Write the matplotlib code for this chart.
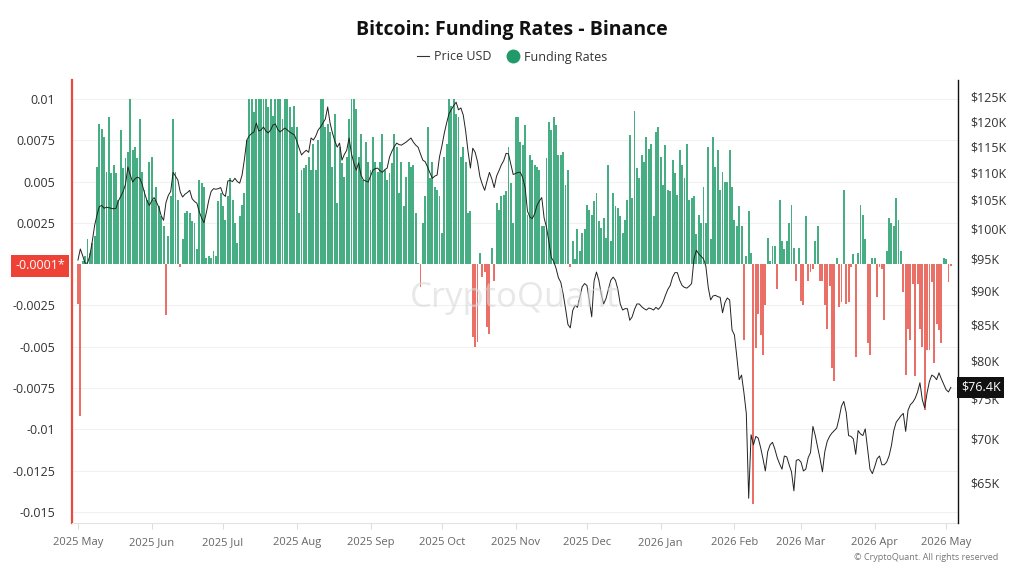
import matplotlib
matplotlib.use("Agg")
import matplotlib.pyplot as plt
import matplotlib.dates as mdates
from matplotlib.ticker import FixedLocator, NullLocator, FuncFormatter
from matplotlib.lines import Line2D
import numpy as np
import pandas as pd

plt.rcParams['font.family'] = ['Open Sans', 'DejaVu Sans']

start_date = "2025-05-01"

# Daily funding rate, in basis points (1 bp = 0.0001)
funding_rate_bps = [
    -24, -92, 2, 5, 15, 7, 13, 17, 59, 85,
    82, 77, 56, 89, 55, 60, 55, 39, 81, 58,
    64, 68, 100, 69, 71, 64, 88, 56, 45, 39,
    62, 65, 39, 47, 35, 29, 23, -31, 17, 41,
    88, 56, 39, -2, 15, 31, 32, 31, 26, 25,
    9, 51, 49, 47, 4, 5, 4, 8, 5, 38,
    43, 35, 27, 41, 52, 39, 25, 13, 29, 36,
    43, 75,
    100, 100, 92, 100, 100, 100, 100, 100, 95, 100,
    90, 100, 100, 100, 88, 100, 100, 95, 83, 96,
    83, 31, 57, 58, 60, 65, 57, 73, 57, 75,
    100, 100, 83, 85, 80, 59, 91, 37, 71, 61,
    53, 65, 88, 100, 100, 94, 65, 79, 51, 74,
    62, 57, 77, 62, 56, 62, 79, 57, 51, 55,
    61, 79, 71, 43, 62, 35, 53, 62, 59, 60,
    31, 1, -14, 25, 41, 83, 52, 62, 47, 45,
    41, 19, 65, 73, 100, 96, 100, 91, 89, 65,
    71, 62, 31, 32,
    -44, -50, -47, 7, -8, -5, -38, -42, 10, -10, 37, 33, 41, 42, 44, 71,
    49, 25, 89, 89, 74, 72, 84, 30, 66, 63,
    60, 59, 57, 23, 23, 64, 86, 81, 89, 84,
    66, 66, 68, 48, 57, -2, 14, 3, 21, 8,
    19, 21, 36, 33, 30, 38, 43, 26, 22, 28,
    16, 60, 14, 43, 35, 34, 29, 19, 27, 39,
    78, 40, 93, 58, 52, 66, 62, 77, 70, 73,
    29, 80, 83, 65, 48, 72, 45, 44, 63, 55,
    42, 69, 60, 52, 73, 39, 40, 41, 18, 30,
    25, 47, 25, 71, 15, 77, 59, 69, 45, 56,
    50, 50, 69,
    47, 27, 23, 35, 23, -46, 5, 32, 7, -145,
    -51, -30, -43, -55, -25, 16, 2, 11, 11, -15,
    39, 14, 9, 14, 25, 36, 10, -10, 10, -22,
    -25, 29, -10, -5, -3, 14, 23, -10, -10, -25,
    -39, -13, -63, -71, 4, -26, -23, 45, -24, -23,
    -2, 6, -56, 7, 36, 30, 15, -48, -55, 4,
    4, -20, -2, -3, -34, 8, 28, 25, 23, 40,
    27, 8, -17, -67, -39, -46, -12, -68, -12, -39,
    -50, -88, -52, -52, -11, -60, -36, -40, -48, 4,
    3, -11, -1,
]

# Daily BTC price, in thousands of USD
price_usd_k = [
    94.8, 96.6, 95.5, 94.3, 94.3, 95.5, 97.8, 100.5, 102.3, 103.8,
    104.0, 103.5, 103.7, 103.6, 103.5, 103.4, 103.5, 104.8, 105.6, 106.5,
    107.8, 111.0, 109.5, 108.2, 108.8, 109.1, 108.9, 107.8, 106.2, 104.9,
    104.0, 104.8, 105.4, 104.6, 103.7, 102.2, 101.4, 104.5, 105.8, 106.5,
    110.0, 109.3, 108.6, 106.4, 105.5, 106.0, 106.3, 106.7, 105.2, 104.7,
    104.4, 102.9, 101.8, 101.0, 102.8, 104.9, 106.5, 107.0, 106.9, 107.0,
    107.2, 106.0, 105.6, 108.4, 108.5, 108.3, 108.9, 108.3, 108.0, 109.5,
    112.5, 116.2, 117.0, 117.5, 117.8, 119.6, 118.0, 118.2, 118.8, 118.0,
    117.6, 118.2, 119.2, 119.4, 118.3, 117.8, 118.2, 118.6, 118.2, 117.8,
    117.5, 117.2, 116.0, 114.6, 113.3, 113.8, 114.2, 113.8, 116.6, 116.2,
    117.0, 118.2, 118.8, 119.6, 120.4, 122.9, 119.6, 117.6, 116.0, 114.8,
    115.6, 112.3, 113.4, 114.2, 116.6, 113.5, 111.8, 110.4, 111.8, 109.5,
    108.6, 108.4, 108.2, 109.3, 110.4, 110.7, 110.8, 110.3, 110.0, 110.5,
    110.8, 112.9, 114.0, 114.9, 115.6, 115.3, 115.2, 115.5, 115.8, 116.2,
    116.6, 115.8, 115.2, 114.8, 113.5, 112.3, 112.0, 111.0, 109.9, 108.9,
    109.3, 109.5, 112.9, 115.0, 117.5, 119.6, 121.5, 122.4, 123.2, 123.9,
    122.3, 122.7, 121.2, 118.0, 114.0, 110.8, 114.6, 113.8, 112.0, 109.2,
    107.8, 106.7, 108.4, 110.0, 108.8, 107.2, 109.3, 110.3, 111.4, 112.2,
    113.6, 113.5, 111.5, 109.6, 109.8, 110.0, 110.0, 109.0, 107.2, 103.0,
    102.0, 101.7, 102.5, 104.0, 104.8, 105.4, 101.8, 100.2, 97.8, 95.2,
    94.6, 93.5, 92.0, 91.3, 89.5, 87.3, 85.0, 84.5, 87.0, 87.8,
    87.5, 89.0, 90.6, 91.1, 90.8, 88.5, 86.1, 91.5, 92.9, 91.6,
    89.5, 88.0, 88.8, 90.2, 91.6, 92.1, 91.6, 90.2, 88.0, 87.1,
    87.3, 87.3, 85.6, 86.1, 87.2, 88.0, 88.0, 87.6, 87.3, 87.1,
    87.4, 87.3, 87.1, 87.5, 87.2, 87.6, 88.3, 89.3, 90.2, 90.8,
    92.1, 92.8, 92.8, 91.6, 90.8, 90.5, 90.4, 90.7, 91.1, 95.0,
    96.4, 95.8, 95.4, 95.0, 93.8, 90.5, 88.6, 89.2, 89.3, 89.1,
    89.0, 86.7, 88.2, 88.9, 88.6, 84.2, 83.5, 80.5, 77.4, 78.0,
    75.7, 73.1, 63.3, 70.5, 69.3, 70.3, 70.1, 69.0, 67.7, 66.3,
    68.5, 69.3, 69.6, 68.8, 67.8, 67.1, 66.5, 68.0, 67.9, 67.0,
    66.2, 64.1, 67.5, 67.6, 67.3, 66.3, 66.5, 67.8, 68.4, 71.5,
    70.4, 69.0, 67.7, 66.2, 68.5, 69.7, 70.3, 70.7, 71.0, 71.3,
    72.5, 74.0, 74.6, 73.2, 70.4, 70.3, 70.0, 68.2, 71.0, 70.6,
    70.4, 71.2, 68.8, 66.5, 66.0, 66.8, 67.7, 68.0, 67.0, 67.0,
    67.3, 68.0, 69.2, 71.0, 72.0, 72.4, 72.8, 73.1, 70.9, 73.5,
    74.2, 74.5, 75.0, 75.8, 77.0, 74.8, 73.8, 75.7, 77.2, 78.0,
    77.8, 77.4, 78.3, 77.5, 76.8, 76.1, 75.8, 76.4,
]

left_ticks = [0.01, 0.0075, 0.005, 0.0025, -0.0025, -0.005, -0.0075, -0.01, -0.0125, -0.015]
left_tick_labels = ["0.01", "0.0075", "0.005", "0.0025", "-0.0025", "-0.005", "-0.0075", "-0.01", "-0.0125", "-0.015"]
right_ticks_k = [65, 70, 75, 80, 85, 90, 95, 100, 105, 110, 115, 120, 125]
latest_funding_label = "-0.0001*"
latest_price_label = "$76.4K"

funding = np.array(funding_rate_bps) / 10000.0
price = np.array(price_usd_k) * 1000.0
f_dates = pd.date_range(start_date, periods=len(funding), freq="D")
p_dates = pd.date_range(start_date, periods=len(price), freq="D")

GREEN = "#47ae84"
RED = "#ea6f66"

fig = plt.figure(figsize=(10.24, 5.76), dpi=100)
ax = fig.add_axes([72/1024, 1-523/576, (958-72)/1024, (523-80)/576])
ax2 = ax.twinx()

colors = [GREEN if v >= 0 else RED for v in funding]
ax.bar(f_dates, funding, width=0.8, color=colors, linewidth=0, zorder=2)

ax.set_xlim(pd.Timestamp("2025-04-28 12:00"), pd.Timestamp("2026-05-06"))
ax.set_ylim(-0.01567, 0.01115)
ax.yaxis.set_major_locator(FixedLocator(left_ticks))
ax.set_yticklabels(left_tick_labels)
ax.tick_params(axis='y', length=0, pad=12, labelsize=9, labelcolor="#333333")
ax.grid(axis='y', color="#f1f1f1", linewidth=0.8, zorder=0)
ax.set_axisbelow(True)

ax.xaxis.set_major_locator(mdates.MonthLocator())
ax.xaxis.set_major_formatter(mdates.DateFormatter("%Y %b"))
ax.tick_params(axis='x', length=4, color="#dddddd", labelsize=8, labelcolor="#666666", pad=6)

for s in ["top", "right"]:
    ax.spines[s].set_visible(False)
ax.spines["bottom"].set_color("#e3e3e3")
ax.spines["left"].set_color("#ea4b3f")
ax.spines["left"].set_linewidth(1.6)

ax2.plot(p_dates, price, color="#222222", linewidth=0.7, zorder=3)
ax2.set_yscale("log")
ax2.set_ylim(60700, 128650)
ax2.yaxis.set_major_locator(FixedLocator([v * 1000 for v in right_ticks_k]))
ax2.yaxis.set_minor_locator(NullLocator())
ax2.yaxis.set_major_formatter(FuncFormatter(lambda v, p: f"${v/1000:.0f}K"))
ax2.tick_params(axis='y', length=0, pad=9, labelsize=9, labelcolor="#333333")
for s in ["top", "left", "bottom"]:
    ax2.spines[s].set_visible(False)
ax2.spines["right"].set_color("#111111")
ax2.spines["right"].set_linewidth(1.0)

# latest value labels
ax.annotate(latest_funding_label, xy=(0, -0.0001), xycoords=("axes fraction", "data"),
            xytext=(-5, 0), textcoords="offset points", ha="right", va="center",
            fontsize=9, color="white",
            bbox=dict(boxstyle="square,pad=0.35", fc="#ee4236", ec="none"))
ax2.annotate(latest_price_label, xy=(1, price[-1]), xycoords=("axes fraction", "data"),
             xytext=(2, 0), textcoords="offset points", ha="left", va="center",
             fontsize=9, color="white",
             bbox=dict(boxstyle="square,pad=0.3", fc="#111111", ec="none"))

# title and legend
fig.text(0.5, 1 - 30/576, "Bitcoin: Funding Rates - Binance", ha="center", va="center",
         fontsize=14, fontweight="bold", color="#111111")
handles = [Line2D([0], [0], color="#333333", lw=0.8),
           Line2D([0], [0], marker="o", color="none", markerfacecolor="#1f9a68",
                  markeredgecolor="none", markersize=10)]
fig.legend(handles, ["Price USD", "Funding Rates"], loc="center",
           bbox_to_anchor=(0.5, 1 - 57/576), ncol=2, frameon=False, fontsize=9,
           handlelength=1.0, handletextpad=0.4, columnspacing=1.2, labelcolor="#333333")

# watermark and copyright
fig.text(515/1024, 1 - 298/576, "CryptoQuant", ha="center", va="center", fontsize=25,
         color="#d9d9d9", alpha=0.6, zorder=0)
fig.text(998/1024, 1 - 558/576, "© CryptoQuant. All rights reserved", ha="right", va="center",
         fontsize=6.5, color="#777777")

fig.savefig("out.png", dpi=100)
